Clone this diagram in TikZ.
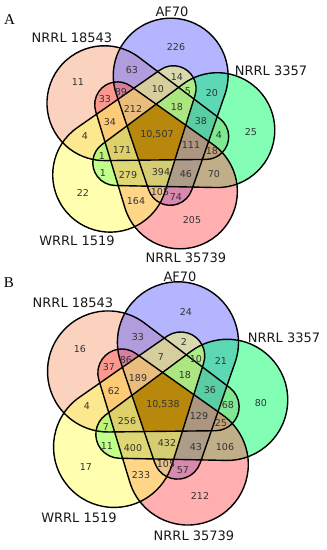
\documentclass[tikz,border=0pt]{standalone}
\usepackage{fontspec}
\setmainfont{DejaVu Sans}
\newfontfamily\letterfont{Liberation Serif}
\usepackage{tikz}
\definecolor{setpeach}{RGB}{245,165,125}
\definecolor{setblue}{RGB}{105,105,255}
\definecolor{setgreen}{RGB}{5,255,105}
\definecolor{setpink}{RGB}{255,95,95}
\definecolor{setyellow}{RGB}{255,255,95}
\definecolor{coregold}{RGB}{184,136,12}

% one set: big round lobe on top, narrow tongue below (local frame, y down)
\newcommand{\lobepath}{(69.18,-41.20) arc[start angle=18.91, end angle=-198.91, radius=58]
  -- (-7.88,55.45) arc[start angle=161.09, end angle=18.91, radius=23] -- cycle}
% five rotated sets around (#1,#2), scaled by #3
\newcommand{\vennpanel}[3]{%
  \foreach \ang/\col in {72/setpeach, 0/setblue, -72/setgreen, -144/setpink, 144/setyellow}
    \fill[\col, fill opacity=0.5, shift={(#1,#2)}, scale=#3, rotate=\ang] \lobepath;
  % region shared by all five sets
  \begin{scope}
    \foreach \ang in {72, 0, -72, -144, 144}
      \clip[shift={(#1,#2)}, scale=#3, rotate=\ang] \lobepath;
    \fill[coregold] (#1-100,#2-100) rectangle (#1+100,#2+100);
  \end{scope}
  \foreach \ang in {72, 0, -72, -144, 144}
    \draw[outline, shift={(#1,#2)}, scale=#3, rotate=\ang] \lobepath;
}

\begin{document}
\begin{tikzpicture}[x=1pt, y=-1pt,
  num/.style={font=\fontsize{9.5}{11}\selectfont, text=black!80, inner sep=0pt},
  setlabel/.style={font=\fontsize{13}{15}\selectfont, text=black!90, inner sep=0pt},
  panel/.style={font=\letterfont\fontsize{15}{17}\selectfont, inner sep=0pt},
  outline/.style={draw=black, line width=1.4pt},
]
  \useasboundingbox (0,0) rectangle (327,550);

  % panel A
  \vennpanel{156.5}{135}{0.99}
  \node[panel] (pA) at (9.5,20) {A};
  \node[setlabel] (A-af70) at (172,12) {AF70};
  \node[setlabel] (A-n18543) at (72,38) {NRRL 18543};
  \node[setlabel] (A-n3357) at (271,70.5) {NRRL 3357};
  \node[setlabel] (A-w1519) at (77,241) {WRRL 1519};
  \node[setlabel] (A-n35739) at (186,258) {NRRL 35739};
  \foreach \x/\y/\txt [count=\i] in {176/47/226, 132/70/63, 78/82/11, 177/77/14, 158/89/10,
      121/92/89, 188/91/5, 212/93/20, 105/99/33, 133/109/212, 177/107/18, 110/122/34,
      201/121/38, 85/136/4, 157/135/{10,507}, 219/135/4, 251/132/25, 191/145/111,
      212/151/18, 102/156/1, 122/150/171, 103/173/1, 128/175/279, 161/172/394,
      186/174/46, 214/174/70, 83/193/22, 136/201/164, 160/192/105, 176/197/74, 192/220/205}
    \node[num] (a\i) at (\x,\y) {\txt};

  % panel B
  \vennpanel{163}{405}{1.044}
  \node[panel] (pB) at (9,283) {B};
  \node[setlabel] (B-af70) at (180,277) {AF70};
  \node[setlabel] (B-n18543) at (73,303) {NRRL 18543};
  \node[setlabel] (B-n3357) at (284,338) {NRRL 3357};
  \node[setlabel] (B-w1519) at (79,518) {WRRL 1519};
  \node[setlabel] (B-n35739) at (194,536) {NRRL 35739};
  \foreach \x/\y/\txt [count=\i] in {186/312/24, 80/349/16, 138/337/33, 184/342/2, 221/361/21,
      109/367/37, 126/360/86, 161/357/7, 196/359/10, 138/378/189, 185/375/18, 114/391/62,
      210/390/36, 261/403/80, 87/406/4, 163/405/{10,538}, 228/405/68, 199/416/129,
      221/423/25, 106/427/7, 127/421/256, 107/446/11, 133/448/400, 167/443/432,
      196/447/43, 225/447/106, 86/467/17, 141/475/233, 166/464/105, 183/470/57, 200/496/212}
    \node[num] (b\i) at (\x,\y) {\txt};
\end{tikzpicture}
\end{document}
